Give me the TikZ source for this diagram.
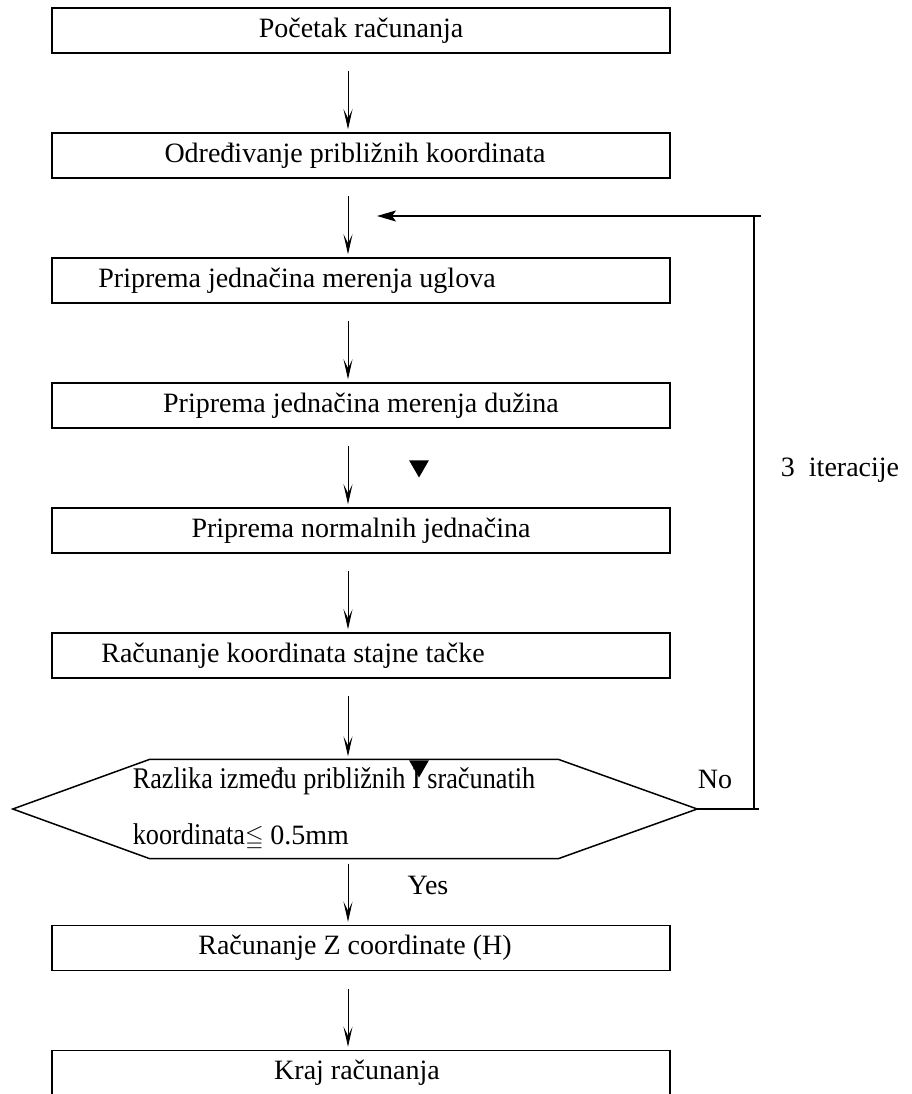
\documentclass[tikz,border=0pt]{standalone}
\usepackage{fontspec}
\usepackage{amssymb}
\setmainfont{Liberation Serif}
\newfontfamily\narrowserif[FakeStretch=0.875]{Liberation Serif}
\usetikzlibrary{%
        arrows.meta,
        calc,
        shapes.geometric
    }
\tikzset{%
    procbox/.style={%
        draw,
        line width=1.5pt,
        minimum width=618pt,
        minimum height=45pt,
        inner sep=0pt,
        font=\fontsize{28pt}{32pt}\selectfont
    },
    flow/.style={line width=0.9pt, -{Stealth[length=20pt, width=9pt, inset=9pt]}},
    marker/.style={%
        regular polygon,
        regular polygon sides=3,
        shape border rotate=180,
        fill=black,
        minimum size=23pt,
        inner sep=0pt
    },
    tag/.style={font=\fontsize{28pt}{32pt}\selectfont, inner sep=0pt}
}

\begin{document}
\begin{tikzpicture}[x=1pt, y=-1pt]

    \useasboundingbox (0, 0) rectangle (911, 1094);
    \coordinate (col) at (348, 0);

    % Steps of the computation
    \node[procbox] (start) at (361, 30.5) {Početak računanja};
    \node[procbox] (approx) at (361, 155.5)
        {Određivanje približnih koordinata\hspace*{12pt}};
    \node[procbox] (angles) at (361, 280.5)
        {Priprema jednačina merenja uglova\hspace*{128pt}};
    \node[procbox] (lengths) at (361, 405.5)
        {Priprema jednačina merenja dužina};
    \node[procbox] (normal) at (361, 530.5)
        {Priprema normalnih jednačina};
    \node[procbox] (station) at (361, 655.5)
        {Računanje koordinata stajne tačke\hspace*{136pt}};

    % Decision
    \node[%
        minimum width=684pt,
        minimum height=99pt,
        inner sep=0pt,
        align=left,
        font=\narrowserif\fontsize{30pt}{34pt}\selectfont
    ] (check) at (355, 809)
        {Razlika između približnih I sračunatih\hspace*{42pt}\\[22pt]
         koordinata{\fontsize{24pt}{28pt}\selectfont$\leqq$}
         {\normalfont\fontsize{28pt}{32pt}\selectfont 0.5mm}};
    \draw[line width=1.5pt] (check.west)
        -- ([xshift=137pt] check.north west)
        -- ([xshift=-139pt] check.north east)
        -- (check.east)
        -- ([xshift=-139pt] check.south east)
        -- ([xshift=137pt] check.south west)
        -- cycle;

    % Last steps
    \node[procbox] (zcoord) at (361, 948)
        {Računanje Z coordinate (H)\hspace*{12pt}};
    \node[procbox] (finish) at (361, 1073) {Kraj računanja\hspace*{8pt}};

    % Connecting the steps
    \foreach \from/\to/\gap in {start/approx/17, approx/angles/17,
            angles/lengths/17, lengths/normal/17, normal/station/17,
            station/check/17, check/zcoord/5, zcoord/finish/18}{%
        \draw[flow] ($(\from.south -| col) + (0, \gap)$)
            -- ($(\to.north -| col) + (0, -3)$);
    };

    % Iteration loop
    \coordinate (loopbot) at (754, 809);
    \coordinate (looptop) at (754, 216);
    \coordinate (feedin) at (377, 216);
    \draw[line width=1.8pt] (check.east) -- ([xshift=5pt] loopbot);
    \draw[line width=2pt] (loopbot) -- (looptop);
    \draw[line width=1.2pt, -{Stealth[length=19pt, width=11pt, inset=4pt]}]
        ([xshift=7pt] looptop) -- (feedin);

    % Labels and marks
    \node[tag] (no) at (715, 779) {No};
    \node[tag] (yes) at (428, 885) {Yes};
    \node[tag] (iter) at (840, 470) {3~~iteracije};
    \node[marker] (mark1) at (419, 466) {};
    \node[marker] (mark2) at (419, 766) {};

\end{tikzpicture}
\end{document}
